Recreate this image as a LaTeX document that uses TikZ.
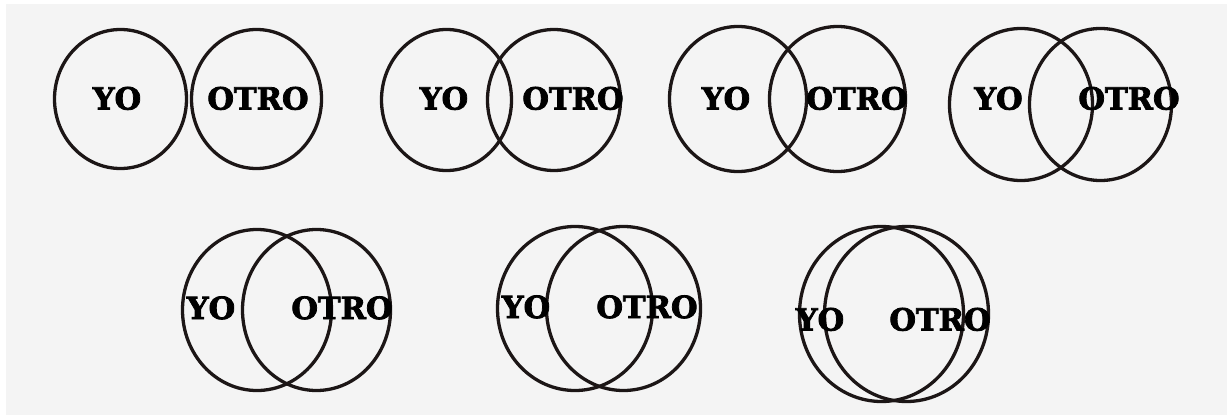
\documentclass[tikz,border=0pt]{standalone}
\usepackage{fontspec}
\newfontfamily\lblfont[BoldFeatures={FakeBold=2.5}]{DejaVu Serif}
\usetikzlibrary{shapes.geometric}
\definecolor{bggray}{HTML}{F4F4F4}
\definecolor{ink}{HTML}{1C1616}
\tikzset{
  ell/.style={draw=ink, line width=3.3pt, ellipse, inner sep=0pt, outer sep=0pt},
  lbl/.style={anchor=base, inner sep=0pt, font=\lblfont\bfseries\fontsize{30.5}{32}\selectfont, text=black}
}
\begin{document}
\begin{tikzpicture}[x=1pt,y=-1pt]
\useasboundingbox (0,0) rectangle (1227,415);
\fill[white] (0,0) rectangle (1227,415);
\fill[bggray] (6,4) rectangle (1227,415);
% pair 1
\node[ell, minimum width=132pt, minimum height=139pt] (a1) at (120.5,99) {};
\node[ell, minimum width=130pt, minimum height=139pt] (b1) at (256.5,99) {};
\node[lbl] (y1) at (117,109.5) {YO};
\node[lbl] (o1) at (258,109.5) {OTRO};
% pair 2
\node[ell, minimum width=130pt, minimum height=141pt] (a2) at (446.5,100) {};
\node[ell, minimum width=133pt, minimum height=141pt] (b2) at (554,100) {};
\node[lbl] (y2) at (444,109.5) {YO};
\node[lbl] (o2) at (573,109.5) {OTRO};
% pair 3
\node[ell, minimum width=137pt, minimum height=145pt] (a3) at (738,99) {};
\node[ell, minimum width=136pt, minimum height=145pt] (b3) at (837.5,99) {};
\node[lbl] (y3) at (726,109.5) {YO};
\node[lbl] (o3) at (857,109.5) {OTRO};
% pair 4
\node[ell, minimum width=143pt, minimum height=152pt] (a4) at (1021,104.5) {};
\node[ell, minimum width=142pt, minimum height=152pt] (b4) at (1100.5,104.5) {};
\node[lbl] (y4) at (998.5,109.5) {YO};
\node[lbl] (o4) at (1129,109.5) {OTRO};
% pair 5
\node[ell, minimum width=149pt, minimum height=161pt] (a5) at (257,310) {};
\node[ell, minimum width=148pt, minimum height=161pt] (b5) at (316.5,310) {};
\node[lbl] (y5) at (211,319) {YO};
\node[lbl] (o5) at (342,319) {OTRO};
% pair 6
\node[ell, minimum width=155pt, minimum height=164pt] (a6) at (575,308.5) {};
\node[ell, minimum width=154pt, minimum height=164pt] (b6) at (623.5,308.5) {};
\node[lbl] (y6) at (526,318) {YO};
\node[lbl] (o6) at (647,318) {OTRO};
% pair 7
\node[ell, minimum width=164pt, minimum height=175pt] (a7) at (881.5,314) {};
\node[ell, minimum width=164pt, minimum height=175pt] (b7) at (906.5,314) {};
\node[lbl] (y7) at (820,330.5) {YO};
\node[lbl] (o7) at (940,330.5) {OTRO};
\end{tikzpicture}
\end{document}
